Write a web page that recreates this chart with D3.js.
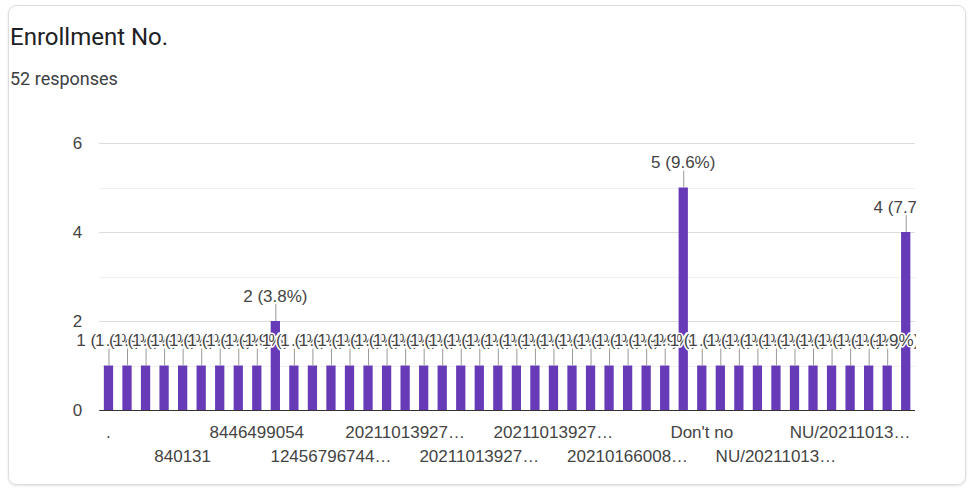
<!DOCTYPE html>
<html>
<head>
<meta charset="utf-8">
<script src="https://cdn.jsdelivr.net/npm/d3@7"></script>
<style>
  body { margin: 0; background: #fff; }
  svg { display: block; }
</style>
</head>
<body>
<div class="chart"></div>
<script>
// === Data ===
const title = "Enrollment No.";
const subtitle = "52 responses";
const total = 52;

const categories = [
  ".", "0", "1", "12", "840131", "840132", "8401350", "844", "8446499054", "NA",
  "12345678", "124567", "124567967441", "2021", "202110", "2021101392", "202110139270101", "202110139270102", "202110139270103", "202110139270104",
  "202110139270105", "202110139270106", "202110139270107", "202110139270108", "202110139270109", "202110139270110", "202110139270111", "202110139270112", "202101660081", "202101660082",
  "202101660083", "-", "Don't no", "Don't know", "Nil", "No", "NU/202110139270101", "NU/202110139270102", "NU/202110139270103", "NU/202110139270104",
  "NU/202110139270105", "NU/202110139270106", "NU/202110139270107", "NU/202110139270108"
];
const counts = [
  1, 1, 1, 1, 1, 1, 1, 1, 1, 2,
  1, 1, 1, 1, 1, 1, 1, 1, 1, 1,
  1, 1, 1, 1, 1, 1, 1, 1, 1, 1,
  1, 5, 1, 1, 1, 1, 1, 1, 1, 1,
  1, 1, 1, 4
];
const yTicks = [0, 2, 4, 6];
const yGrid = [0, 1, 2, 3, 4, 5, 6];

// Chart init
const W = 968, H = 488;
const plot = {left: 99.2, right: 915, top: 143, bottom: 410};
const barColor = "#673ab7";
const textColor = "#444";
const chartFont = "'Liberation Sans', Arial, sans-serif";

const svg = d3.select(".chart").append("svg")
    .attr("width", W)
    .attr("height", H);

svg.append("defs").append("filter")
    .attr("id", "shadow")
    .append("feDropShadow")
    .attr("dx", 0).attr("dy", 1).attr("stdDeviation", 1)
    .attr("flood-color", "#3c4043").attr("flood-opacity", 0.15);

svg.select("defs").append("clipPath")
    .attr("id", "clip")
    .append("rect")
    .attr("x", 0).attr("y", 0)
    .attr("width", plot.right + 1).attr("height", H);

// card
svg.append("rect")
    .attr("x", 8.5).attr("y", 5.5)
    .attr("width", 957).attr("height", 479)
    .attr("rx", 8)
    .attr("fill", "#fff")
    .attr("stroke", "#dadce0")
    .attr("filter", "url(#shadow)");

svg.append("text")
    .attr("x", 10).attr("y", 45)
    .attr("font-family", "Roboto, sans-serif")
    .attr("font-size", "24px")
    .attr("fill", "#202124")
    .text(title);

svg.append("text")
    .attr("x", 10).attr("y", 85)
    .attr("font-family", "Roboto, sans-serif")
    .attr("font-size", "18px")
    .attr("fill", "#3c4043")
    .text(subtitle);

// === Scales ===
const xScale = d3.scaleBand()
    .domain(categories)
    .range([plot.left, plot.right])
    .paddingInner(0.5)
    .paddingOuter(0.25);

const yScale = d3.scaleLinear()
    .domain([0, 6])
    .range([plot.bottom, plot.top]);

const g = svg.append("g").attr("clip-path", "url(#clip)");

// gridlines
g.selectAll(".grid")
    .data(yGrid.filter(d => d > 0))
    .enter()
    .append("line")
    .attr("class", "grid")
    .attr("x1", plot.left).attr("x2", plot.right)
    .attr("y1", d => Math.round(yScale(d)) + 0.5)
    .attr("y2", d => Math.round(yScale(d)) + 0.5)
    .attr("stroke", d => d % 2 === 0 ? "#dcdcdc" : "#f0f0f0");

// y axis
const yAxis = d3.axisLeft(yScale)
    .tickValues(yTicks)
    .tickFormat(d3.format("d"))
    .tickSize(0)
    .tickPadding(17);

svg.append("g")
    .attr("class", "y-axis")
    .attr("transform", "translate(" + plot.left + ",0)")
    .call(yAxis)
    .call(a => a.select(".domain").remove())
    .selectAll("text")
    .attr("font-family", chartFont)
    .attr("font-size", "17px")
    .attr("fill", textColor);

// bars
g.selectAll(".bar")
    .data(categories)
    .enter()
    .append("rect")
    .attr("class", "bar")
    .attr("x", d => xScale(d))
    .attr("width", xScale.bandwidth())
    .attr("y", (d, i) => yScale(counts[i]))
    .attr("height", (d, i) => plot.bottom - yScale(counts[i]))
    .attr("fill", barColor);

// baseline
g.append("line")
    .attr("x1", plot.left).attr("x2", plot.right)
    .attr("y1", plot.bottom + 0.5).attr("y2", plot.bottom + 0.5)
    .attr("stroke", "#333");

// annotations (stem + label)
const ann = g.selectAll(".ann")
    .data(categories)
    .enter()
    .append("g")
    .attr("class", "ann");

ann.append("line")
    .attr("x1", d => xScale(d) + xScale.bandwidth() / 2 + 0.5)
    .attr("x2", d => xScale(d) + xScale.bandwidth() / 2 + 0.5)
    .attr("y1", (d, i) => yScale(counts[i]) - 17)
    .attr("y2", (d, i) => yScale(counts[i]))
    .attr("stroke", "#999");

ann.append("text")
    .attr("x", d => xScale(d) + xScale.bandwidth() / 2)
    .attr("y", (d, i) => yScale(counts[i]) - 19.5)
    .attr("text-anchor", "middle")
    .attr("font-family", chartFont)
    .attr("font-size", "17px")
    .attr("fill", textColor)
    .attr("stroke", "#fff")
    .attr("stroke-width", 3)
    .attr("paint-order", "stroke")
    .text((d, i) => counts[i] + " (" + (counts[i] / total * 100).toFixed(1) + "%)");

// x axis, every 4th label, staggered in two rows
const shown = categories.filter((d, i) => i % 4 === 0);
const xAxis = d3.axisBottom(xScale)
    .tickValues(shown)
    .tickSize(0)
    .tickFormat(d => d.length > 11 ? d.slice(0, 11) + "\u2026" : d);

svg.append("g")
    .attr("class", "x-axis")
    .attr("transform", "translate(0," + plot.bottom + ")")
    .call(xAxis)
    .call(a => a.select(".domain").remove())
    .selectAll("text")
    .attr("font-family", chartFont)
    .attr("font-size", "17px")
    .attr("fill", textColor)
    .attr("y", (d, i) => i % 2 === 0 ? 16 : 40)
    .attr("dy", "0.71em");
</script>
</body>
</html>
